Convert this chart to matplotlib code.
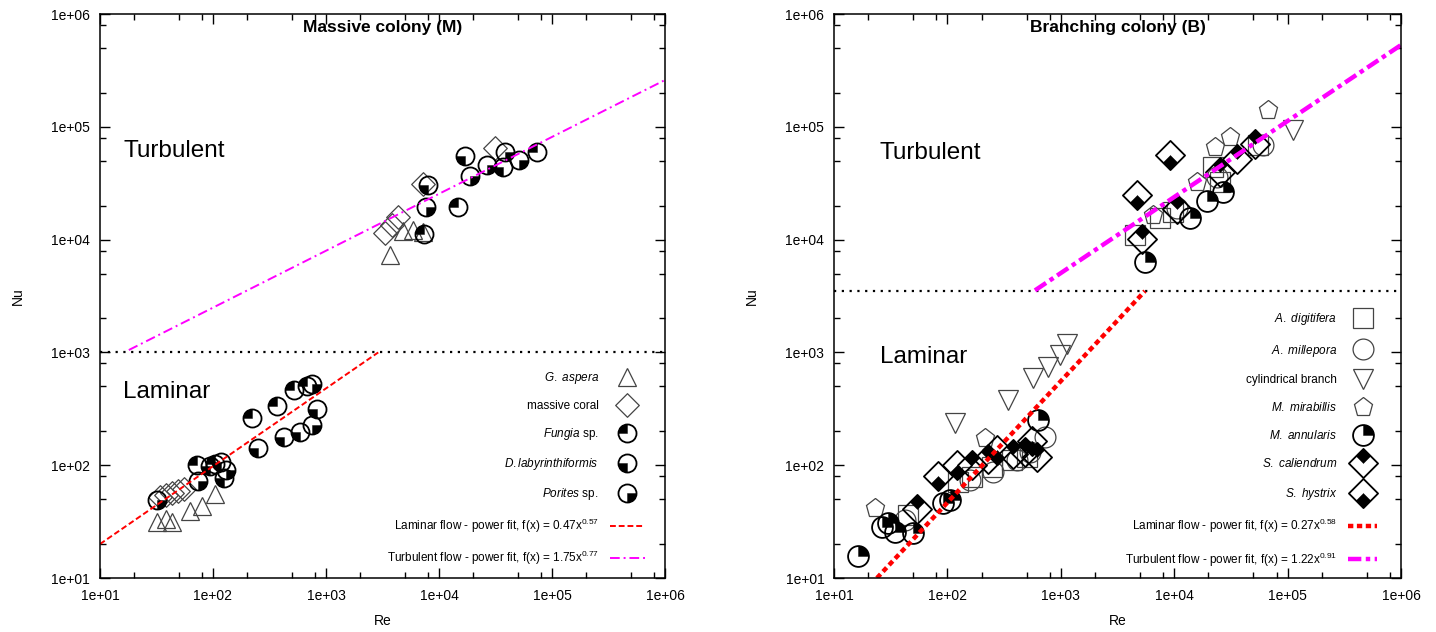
import matplotlib
matplotlib.use("Agg")
import matplotlib.pyplot as plt
from matplotlib.path import Path
from matplotlib.lines import Line2D
from matplotlib.ticker import LogLocator, FuncFormatter, NullFormatter

plt.rcParams['font.family'] = ['Liberation Sans', 'DejaVu Sans']
plt.rcParams['mathtext.fontset'] = 'custom'
plt.rcParams['mathtext.rm'] = 'Liberation Sans'
plt.rcParams['mathtext.it'] = 'Liberation Sans:italic'

# ---------------- Massive colony (M) ----------------
ga_re = [31.9, 38.4, 43.4, 62.5, 80, 104, 3680, 4800, 5890, 7220]
ga_nu = [31.3, 33.4, 31.3, 39.3, 43.5, 55.6, 7300, 11900, 12200, 11700]

mc_re = [34, 38.4, 43.4, 49, 55.3, 3330, 3840, 4340, 7220, 31300]
mc_nu = [52.3, 54.4, 56.8, 59, 61.5, 11400, 13500, 15900, 31100, 64900]

fu_re = [72.1, 104, 221, 368, 521, 679, 7360, 14700, 73600]
fu_nu = [100, 102.6, 262, 335, 465, 504, 11200, 19500, 59800]

dl_re = [94, 118, 125, 250, 425, 589, 832, 8000, 17000, 36800]
dl_nu = [98.5, 106.7, 77, 142, 178, 197, 315, 30500, 55100, 44000]

po_re = [31.9, 73.6, 130, 752, 752, 7680, 18800, 26600, 38400, 51000]
po_nu = [49.1, 72.4, 90.6, 525, 227, 19500, 36600, 45800, 59800, 50800]

# fitted lines (end points as drawn)
lamM_re = [10, 2900]
lamM_nu = [20, 1000]
turM_re = [18, 1e6]
turM_nu = [1050, 2.6e5]
transM_nu = 1000

# ---------------- Branching colony (B) ----------------
ad_re = [45, 124, 165, 247, 371, 504, 4510, 7500, 9750, 22000, 25300, 54800]
ad_nu = [36.2, 71, 78.5, 96.3, 111, 118, 11000, 15500, 17600, 44000, 32400, 69000]

am_re = [42, 158, 252, 411, 535, 726, 10600, 23800, 60700]
am_nu = [32.7, 74, 87, 111, 131, 178, 19000, 35900, 69000]

cb_re = [117, 342, 569, 771, 984, 1135, 111700]
cb_nu = [237, 378, 593, 743, 949, 1186, 93800]

mm_re = [23, 215, 6500, 15900, 22900, 31000, 67100]
mm_nu = [41.8, 174, 16500, 32400, 66200, 81300, 141000]

man_re = [16.3, 26.5, 29.9, 34.5, 49.8, 91.5, 105, 630, 5520, 13800, 19500, 26900]
man_nu = [15.7, 28.3, 30.7, 25.6, 25.1, 46.2, 49.1, 252, 6330, 15500, 22000, 26400]

sc_re = [54, 165, 228, 379, 483, 617, 5200, 10600, 25400, 35800, 51600]
sc_nu = [40.9, 100.5, 113.5, 126, 131, 118, 10100, 18700, 39700, 51900, 70400]

sh_re = [82.6, 122, 274, 557, 9180, 4700]
sh_nu = [80.2, 100.5, 136, 164, 56200, 24800]

lamB_re = [23.9, 5520]
lamB_nu = [10, 3500]
turB_re = [592, 1e6]
turB_nu = [3550, 5.31e5]
transB_nu = 3500

# marker shapes
DIAMOND = Path([(0, 1), (1, 0), (0, -1), (-1, 0), (0, 1)],
               [Path.MOVETO, Path.LINETO, Path.LINETO, Path.LINETO, Path.CLOSEPOLY])
DIA_TOP = Path([(0, 1), (0.5, 0.5), (0, 0), (-0.5, 0.5), (0, 1)],
               [Path.MOVETO, Path.LINETO, Path.LINETO, Path.LINETO, Path.CLOSEPOLY])
DIA_BOT = Path([(0, -1), (0.5, -0.5), (0, 0), (-0.5, -0.5), (0, -1)],
               [Path.MOVETO, Path.LINETO, Path.LINETO, Path.LINETO, Path.CLOSEPOLY])

GRAY = '#444444'


def open_series(ax, x, y, marker, ms):
    ax.plot(x, y, ls='none', marker=marker, ms=ms, mfc='none', mec=GRAY, mew=0.9)
    return Line2D([], [], ls='none', marker=marker, ms=ms, mfc='none', mec=GRAY, mew=0.9)


def split_series(ax, x, y, outline, fill, ms):
    ax.plot(x, y, ls='none', marker=outline, ms=ms, mfc='none', mec='black', mew=1.3)
    ax.plot(x, y, ls='none', marker=fill, ms=ms, mfc='black', mec='black', mew=0.3)
    return (Line2D([], [], ls='none', marker=outline, ms=ms, mfc='none', mec='black', mew=1.3),
            Line2D([], [], ls='none', marker=fill, ms=ms, mfc='black', mec='black', mew=0.3))


def style_axes(ax, title, lam_y, tur_y, tx):
    ax.set_xscale('log')
    ax.set_yscale('log')
    ax.set_xlim(10, 1e6)
    ax.set_ylim(10, 1e6)
    fmt = FuncFormatter(lambda v, p: "{:.0e}".format(v))
    for axis in (ax.xaxis, ax.yaxis):
        axis.set_major_locator(LogLocator(base=10, numticks=10))
        axis.set_minor_locator(LogLocator(base=10, subs=[2, 5, 8], numticks=20))
        axis.set_major_formatter(fmt)
        axis.set_minor_formatter(NullFormatter())
    ax.tick_params(which='both', direction='in', top=True, right=True, width=1.0,
                   labelsize=10, color='black')
    ax.tick_params(which='major', length=7)
    ax.tick_params(which='minor', length=4)
    ax.tick_params(axis='x', pad=8)
    ax.tick_params(axis='y', pad=7)
    for s in ax.spines.values():
        s.set_linewidth(1.1)
    ax.set_xlabel('Re', fontsize=10, labelpad=8)
    ax.set_ylabel('Nu', fontsize=10, labelpad=19)
    ax.text(0.5, 0.99, title, transform=ax.transAxes, ha='center', va='top',
            fontsize=12.5, fontweight='bold')
    ax.text(tx, tur_y, 'Turbulent', transform=ax.transAxes, fontsize=17.5, va='center')
    ax.text(tx, lam_y, 'Laminar', transform=ax.transAxes, fontsize=17.5, va='center')


fig = plt.figure(figsize=(14.36, 6.32), dpi=100)
axM = fig.add_axes([0.0696, 0.0854, 0.3935, 0.8924])
axB = fig.add_axes([0.5808, 0.0854, 0.3948, 0.8924])

# ---- left panel ----
h_ga = open_series(axM, ga_re, ga_nu, '^', 13)
h_mc = open_series(axM, mc_re, mc_nu, DIAMOND, 17)
h_fu = split_series(axM, fu_re, fu_nu, 'o', Path.wedge(90, 180), 13)
h_dl = split_series(axM, dl_re, dl_nu, 'o', Path.wedge(180, 270), 13)
h_po = split_series(axM, po_re, po_nu, 'o', Path.wedge(270, 360), 13)
axM.plot([10, 1e6], [transM_nu, transM_nu], color='black', ls=(0, (1, 2.5)), lw=1.6)
h_lamM, = axM.plot(lamM_re, lamM_nu, color='#ff0000', ls=(0, (3, 1.5)), lw=1.4)
h_turM, = axM.plot(turM_re, turM_nu, color='#ff00ff', ls=(0, (5, 2, 1, 2)), lw=1.4)
style_axes(axM, 'Massive colony (M)', 0.33, 0.757, 0.041)

legM = axM.legend(
    [h_ga, h_mc, h_fu, h_dl, h_po, h_lamM, h_turM],
    [r'$\it{G.\ aspera}$', 'massive coral', r'$\it{Fungia}$ sp.',
     r'$\it{D.labyrinthiformis}$', r'$\it{Porites}$ sp.',
     r'Laminar flow - power fit, f(x) = 0.47x$^{0.57}$',
     r'Turbulent flow - power fit, f(x) = 1.75x$^{0.77}$'],
    loc='lower right', frameon=False, markerfirst=False, fontsize=8.5,
    labelspacing=1.19, handlelength=3.0, handletextpad=0.9,
    borderaxespad=1.3, bbox_to_anchor=(1.0, -0.016))

# ---- right panel ----
h_ad = open_series(axB, ad_re, ad_nu, 's', 15)
h_am = open_series(axB, am_re, am_nu, 'o', 15)
h_cb = open_series(axB, cb_re, cb_nu, 'v', 14)
h_mm = open_series(axB, mm_re, mm_nu, 'p', 14)
h_man = split_series(axB, man_re, man_nu, 'o', Path.wedge(0, 90), 15)
h_sc = split_series(axB, sc_re, sc_nu, DIAMOND, DIA_TOP, 21)
h_sh = split_series(axB, sh_re, sh_nu, DIAMOND, DIA_BOT, 21)
axB.plot([10, 1e6], [transB_nu, transB_nu], color='black', ls=(0, (1, 2.5)), lw=1.6)
h_lamB, = axB.plot(lamB_re, lamB_nu, color='#ff0000', ls=(0, (1.2, 0.8)), lw=3.2)
h_turB, = axB.plot(turB_re, turB_nu, color='#ff00ff', ls=(0, (3, 1, 1, 1)), lw=3.2)
style_axes(axB, 'Branching colony (B)', 0.392, 0.754, 0.081)

legB = axB.legend(
    [h_ad, h_am, h_cb, h_mm, h_man, h_sc, h_sh, h_lamB, h_turB],
    [r'$\it{A.\ digitifera}$', r'$\it{A.\ millepora}$', 'cylindrical branch',
     r'$\it{M.\ mirabillis}$', r'$\it{M.\ annularis}$', r'$\it{S.\ caliendrum}$',
     r'$\it{S.\ hystrix}$',
     r'Laminar flow - power fit, f(x) = 0.27x$^{0.58}$',
     r'Turbulent flow - power fit, f(x) = 1.22x$^{0.91}$'],
    loc='lower right', frameon=False, markerfirst=False, fontsize=8.5,
    labelspacing=1.29, handlelength=2.5, handletextpad=0.9,
    borderaxespad=1.6, bbox_to_anchor=(1.0, -0.025))

fig.savefig('out.png', dpi=100)
